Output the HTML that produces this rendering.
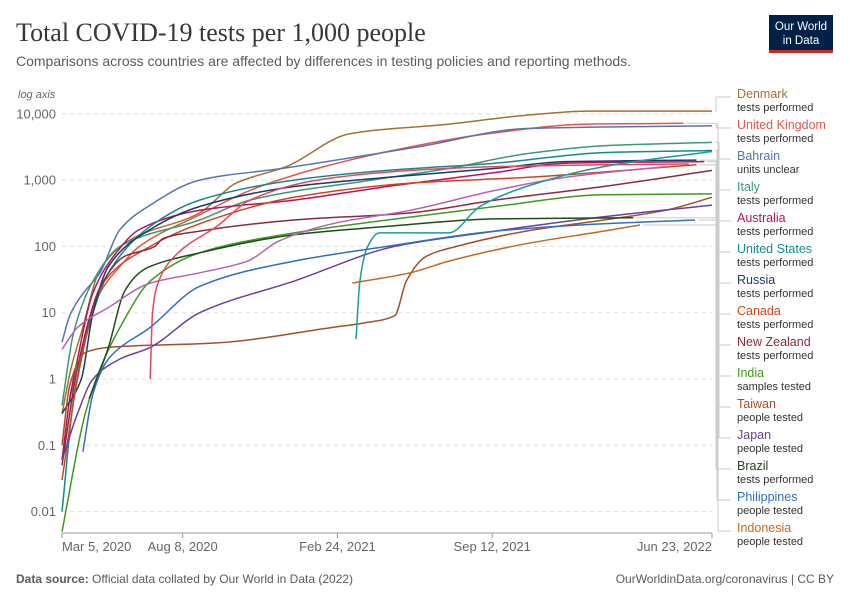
<!DOCTYPE html>
<html><head><meta charset="utf-8">
<style>
body{margin:0;background:#fff;}
#wrap{position:relative;width:850px;height:600px;overflow:hidden;font-family:"Liberation Sans",sans-serif;}
svg text{font-family:"Liberation Sans",sans-serif;}
</style></head>
<body>
<div id="wrap">
<svg id="chart" width="850" height="600" viewBox="0 0 850 600">
  <text x="16" y="41" font-family="Liberation Serif" font-size="26" fill="#373737" style="font-family:'Liberation Serif',serif">Total COVID-19 tests per 1,000 people</text>
  <text x="16" y="66" font-size="14" fill="#5b5b5b">Comparisons across countries are affected by differences in testing policies and reporting methods.</text>
  <g>
    <rect x="769" y="15" width="64" height="35" fill="#002147"/>
    <rect x="769" y="50" width="64" height="3" fill="#ce261e"/>
    <text x="801" y="30" font-size="11.5" fill="#fff" text-anchor="middle">Our World</text>
    <text x="801" y="44" font-size="11.5" fill="#fff" text-anchor="middle">in Data</text>
  </g>
  <text x="18" y="98" font-size="11" font-style="italic" fill="#666">log axis</text>
  <g id="grid"></g>
  <g id="xaxis"></g>
  <g id="connectors"></g>
  <g id="lines"></g>
  <g id="legend"></g>
  <text x="16" y="583" font-size="12" fill="#5b5b5b"><tspan font-weight="bold">Data source:</tspan> Official data collated by Our World in Data (2022)</text>
  <text x="834" y="583" font-size="12" fill="#5b5b5b" text-anchor="end">OurWorldinData.org/coronavirus | CC BY</text>
</svg>
</div>
<script>
// ---- data (days since Mar 5, 2020; values per 1,000 people) ----
const yTickValues=[0.01,0.1,1,10,100,1000,10000];
const yTickLabels=["0.01","0.1","1","10","100","1,000","10,000"];
const xTickDays=[0,156,356,556,840];
const xTickLabels=["Mar 5, 2020","Aug 8, 2020","Feb 24, 2021","Sep 12, 2021","Jun 23, 2022"];

const seriesNames=["Denmark","United Kingdom","Bahrain","Italy","Australia","United States","Russia","Canada","New Zealand","India","Taiwan","Japan","Brazil","Philippines","Indonesia","Other A","Other B","Other C"];
const seriesUnits=["tests performed","tests performed","units unclear","tests performed","tests performed","tests performed","tests performed","tests performed","tests performed","samples tested","people tested","people tested","tests performed","people tested","people tested","","",""];
const seriesColors=["#a2722f","#e0584d","#5874b0","#3b9a73","#b9135f","#16898f","#1b3a6a","#d0461c","#8c2b3a","#3d9a1f","#a3502a","#6b3fa0","#1d4d14","#2e6fc4","#c8681c","#b563b3","#e8455e","#1a9c9c"];

const denmarkDays=[0,12,25,49,88,178,225,290,372,500,600,680,840];
const denmarkVals=[0.3,1.5,5,44,125,320,900,1600,5000,7000,9500,11000,11000];
const ukDays=[10,23,35,49,75,100,178,243,330,440,550,680,803];
const ukVals=[0.5,2,8,20,50,100,300,700,1500,3000,5000,7000,7200];
const bahrainDays=[0,10,25,49,75,114,178,285,462,600,840];
const bahrainVals=[3.6,9,18,40,180,420,1000,1500,3200,6000,6600];
const italyDays=[0,15,40,75,178,243,400,500,600,700,840];
const italyVals=[0.4,5,30,100,250,500,1000,1500,2500,3300,3700];
const australiaDays=[0,10,20,40,70,100,178,300,420,560,650,830];
const australiaVals=[0.06,0.5,2,20,80,180,350,500,800,1300,1800,1900];
const usDays=[0,15,28,40,60,114,178,300,420,560,700,840];
const usVals=[0.01,0.5,3,10,40,200,500,1000,1400,1800,2600,2800];
const russiaDays=[0,25,40,60,114,178,300,420,560,650,820];
const russiaVals=[0.3,1,10,50,180,400,800,1100,1500,1900,2000];
const canadaDays=[0,20,50,114,178,300,450,600,820];
const canadaVals=[0.03,1,25,100,220,550,900,1100,1700];
const nzDays=[0,20,50,80,120,130,178,300,450,560,700,840];
const nzVals=[0.05,1.5,25,70,100,130,170,250,320,500,800,1400];
const indiaDays=[0,30,50,75,114,178,300,420,560,700,840];
const indiaVals=[0.005,0.3,1.5,6,30,80,160,250,400,600,620];
const taiwanDays=[0,10,30,60,200,350,390,430,445,470,510,600,700,780,840];
const taiwanVals=[0.1,0.8,2.5,3,3.5,6,7,9,30,70,100,170,250,350,550];
const japanDays=[0,20,40,75,114,178,300,430,560,700,840];
const japanVals=[0.06,0.3,1,2,3,10,30,100,170,280,420];
const brazilDays=[35,60,80,100,114,178,300,420,560,738];
const brazilVals=[0.5,3,20,40,50,80,150,200,260,270];
const philippinesDays=[27,40,60,114,178,300,420,560,700,818];
const philippinesVals=[0.08,0.6,2,6,25,60,100,170,220,250];
const indonesiaDays=[375,450,500,600,700,747];
const indonesiaVals=[28,40,60,110,170,210];
const otherADays=[0,20,60,114,178,240,280,350,450,560,650,780];
const otherAVals=[2.8,6,12,28,40,60,120,220,350,700,1100,1600];
const otherBDays=[114,117,125,150,200,243,330,450,560,700,810];
const otherBVals=[1,10,30,80,200,500,1000,1400,1600,1700,1750];
const otherCDays=[380,385,395,410,500,540,600,700,840];
const otherCVals=[4,30,100,160,160,400,800,1600,2700];

const seriesDays=[denmarkDays,ukDays,bahrainDays,italyDays,australiaDays,usDays,russiaDays,canadaDays,nzDays,indiaDays,taiwanDays,japanDays,brazilDays,philippinesDays,indonesiaDays,otherADays,otherBDays,otherCDays];
const seriesVals=[denmarkVals,ukVals,bahrainVals,italyVals,australiaVals,usVals,russiaVals,canadaVals,nzVals,indiaVals,taiwanVals,japanVals,brazilVals,philippinesVals,indonesiaVals,otherAVals,otherBVals,otherCVals];

// ---- scales ----
const X0=62,X1=712,DMAX=840;
const Y1=379,PERDEC=66.3;
function xScale(d){return X0+d*(X1-X0)/DMAX;}
function yScale(v){return Y1-Math.log10(v)*PERDEC;}
const NS="http://www.w3.org/2000/svg";
function mk(tag,attrs,parent){const e=document.createElementNS(NS,tag);for(const k in attrs)e.setAttribute(k,attrs[k]);parent.appendChild(e);return e;}

// monotone cubic path (Fritsch-Carlson)
function monoPath(xs,ys){
  const n=xs.length;
  if(n<2)return '';
  const dx=[],m=[],t=new Array(n);
  for(let i=0;i<n-1;i++){dx.push(xs[i+1]-xs[i]);m.push((ys[i+1]-ys[i])/(xs[i+1]-xs[i]));}
  t[0]=m[0];t[n-1]=m[n-2];
  for(let i=1;i<n-1;i++){
    if(m[i-1]*m[i]<=0)t[i]=0;
    else{const w1=2*dx[i]+dx[i-1],w2=dx[i]+2*dx[i-1];t[i]=(w1+w2)/(w1/m[i-1]+w2/m[i]);}
  }
  let d='M'+xs[0].toFixed(1)+','+ys[0].toFixed(1);
  for(let i=0;i<n-1;i++){
    const h=dx[i]/3;
    d+=' C'+(xs[i]+h).toFixed(1)+','+(ys[i]+t[i]*h).toFixed(1)+' '+(xs[i+1]-h).toFixed(1)+','+(ys[i+1]-t[i+1]*h).toFixed(1)+' '+xs[i+1].toFixed(1)+','+ys[i+1].toFixed(1);
  }
  return d;
}

const grid=document.getElementById('grid');
yTickValues.forEach((v,i)=>{
  const y=yScale(v);
  const l=mk('line',{x1:X0,x2:X1,y1:y,y2:y,stroke:'#ddd','stroke-dasharray':'4,4'},grid);
  
  
  const t=mk('text',{x:56,y:y+4.5,'font-size':13,fill:'#666','text-anchor':'end'},grid);
  t.textContent=yTickLabels[i];
  
  
});
const xa=document.getElementById('xaxis');
const axl=mk('line',{x1:X0,x2:X1,y1:533,y2:533,stroke:'#999'},xa);


xTickDays.forEach((d,i)=>{
  const x=xScale(d);
  const tk=mk('line',{x1:x,x2:x,y1:533,y2:538,stroke:'#999'},xa);
  
  
  const anchor=i===0?'start':(i===xTickDays.length-1?'end':'middle');
  const t=mk('text',{x:x,y:551,'font-size':13,fill:'#666','text-anchor':anchor},xa);
  t.textContent=xTickLabels[i];
  
  
});

const lines=document.getElementById('lines');
const conn=document.getElementById('connectors');
const leg=document.getElementById('legend');
seriesNames.forEach((name,i)=>{
  const ds=seriesDays[i],vs=seriesVals[i];
  const xs=ds.map(xScale), ys=vs.map(yScale);
  const p=mk('path',{d:monoPath(xs,ys),fill:'none',stroke:seriesColors[i],'stroke-width':1.5,'stroke-linejoin':'round'},lines);
  
  
  if(i<15){
    const ly=94+i*31;
    const ex=xScale(ds[ds.length-1])+3, ey=yScale(vs[vs.length-1]);
    const bx=716+(i%4);
    const c=mk('polyline',{points:`${ex},${ey} ${bx},${ey} ${bx},${ly+3} 731,${ly+3}`,fill:'none',stroke:'#ccc','stroke-width':1},conn);
    
    
    const g=mk('g',{},leg);
    
    
    const t1=mk('text',{x:737,y:ly+4,'font-size':12.5,fill:seriesColors[i]},g);
    t1.textContent=name;
    const t2=mk('text',{x:737,y:ly+17,'font-size':11,fill:'#333'},g);
    t2.textContent=seriesUnits[i];
  }
});
</script>
</body></html>
